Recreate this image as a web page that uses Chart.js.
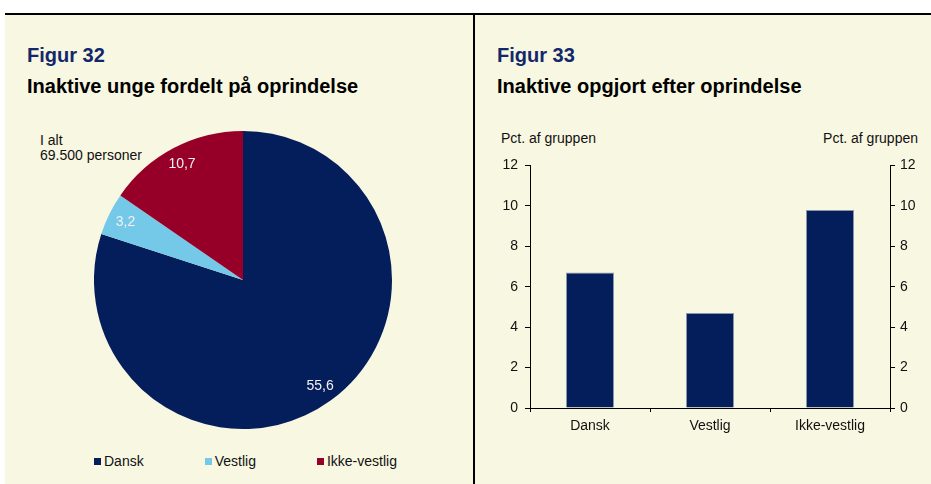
<!DOCTYPE html>
<html><head><meta charset="utf-8">
<script src="https://cdn.jsdelivr.net/npm/chart.js@4"></script>
<style>
html,body{margin:0;padding:0;background:#fff;width:931px;height:484px;overflow:hidden;font-family:"Liberation Sans",Arial,sans-serif;}
#panel{position:absolute;left:5px;top:13px;width:926px;height:471px;background:#f8f7e1;border-top:2px solid #000;box-sizing:border-box;}
#divider{position:absolute;left:473px;top:13px;width:2px;height:471px;background:#000;}
.t{position:absolute;white-space:nowrap;}
.fig{font-size:20px;line-height:20px;font-weight:bold;color:#13286b;}
.ttl{font-size:20px;line-height:20px;font-weight:bold;color:#000;}
.sm{font-size:14px;line-height:15px;color:#111;}
#legend{position:absolute;left:94px;top:454px;display:flex;gap:61px;font-size:14px;line-height:15px;color:#111;}
#legend .it{position:relative;padding-left:10px;white-space:nowrap;}
#legend .bx{position:absolute;left:0;top:4px;width:7px;height:7px;}
canvas{position:absolute;}
</style></head>
<body>
<div id="panel"></div>
<div id="divider"></div>

<div class="t fig" style="left:27px;top:45px;">Figur 32</div>
<div class="t ttl" style="left:27px;top:76px;">Inaktive unge fordelt på oprindelse</div>
<div class="t sm" style="left:40px;top:133px;">I alt<br>69.500 personer</div>

<div class="t fig" style="left:497px;top:45px;">Figur 33</div>
<div class="t ttl" style="left:497px;top:76px;">Inaktive opgjort efter oprindelse</div>
<div class="t sm" style="left:501px;top:131px;">Pct. af gruppen</div>
<div class="t sm" style="right:13px;top:131px;">Pct. af gruppen</div>

<canvas id="pie" width="298" height="298" style="left:94px;top:131px;"></canvas>
<canvas id="bar" width="451" height="300" style="left:480px;top:150px;"></canvas>
<div id="legend"></div>

<script>
// ---- Data ----
const pieCategories = ["Dansk", "Vestlig", "Ikke-vestlig"];
const pieValues = [55.6, 3.2, 10.7];           // tusinde personer
const barCategories = ["Dansk", "Vestlig", "Ikke-vestlig"];
const barValues = [6.7, 4.7, 9.8];             // pct. af gruppen
const yTickMin = 0, yTickMax = 12, yTickStep = 2;

// ---- Styles ----
const NAVY = "#041e5b", LIGHTBLUE = "#74c8e8", RED = "#960028";
const pieColors = [NAVY, LIGHTBLUE, RED];

Chart.defaults.font.family = "'Liberation Sans', Arial, sans-serif";
Chart.defaults.font.size = 14;
Chart.defaults.color = "#111";

const fmt = v => v.toFixed(1).replace(".", ",");

// HTML legend built from the arrays
const leg = document.getElementById("legend");
pieCategories.forEach((c, i) => {
  const it = document.createElement("span"); it.className = "it";
  const bx = document.createElement("span"); bx.className = "bx"; bx.style.background = pieColors[i];
  it.appendChild(bx); it.appendChild(document.createTextNode(c));
  leg.appendChild(it);
});

const sliceLabels = {
  id: "sliceLabels",
  afterDatasetsDraw(chart) {
    const ctx = chart.ctx, meta = chart.getDatasetMeta(0);
    ctx.save();
    ctx.fillStyle = "#f2f2f2";
    ctx.font = "14px 'Liberation Sans', Arial, sans-serif";
    ctx.textAlign = "center"; ctx.textBaseline = "middle";
    meta.data.forEach((arc, i) => {
      const p = arc.getProps(["x", "y", "startAngle", "endAngle", "outerRadius"], true);
      const m = (p.startAngle + p.endAngle) / 2, r = p.outerRadius * 0.88;
      ctx.fillText(fmt(pieValues[i]), p.x + Math.cos(m) * r, p.y + Math.sin(m) * r);
    });
    ctx.restore();
  }
};

new Chart(document.getElementById("pie"), {
  type: "pie",
  data: { labels: pieCategories, datasets: [{ data: pieValues, backgroundColor: pieColors, borderWidth: 0 }] },
  options: {
    responsive: false, animation: false,
    layout: { padding: 0 },
    plugins: { legend: { display: false }, tooltip: { enabled: false } }
  },
  plugins: [sliceLabels]
});

const yAxis = (pos, w) => ({
  position: pos, min: yTickMin, max: yTickMax,
  ticks: { stepSize: yTickStep, padding: pos === "left" ? 7 : 5, color: "#111" },
  grid: { drawOnChartArea: false, drawTicks: true, tickLength: 5, color: "#000" },
  border: { display: true, color: "#000", width: 1 },
  afterFit(s) { s.width = w; }
});

new Chart(document.getElementById("bar"), {
  type: "bar",
  data: {
    labels: barCategories,
    datasets: [{ data: barValues, backgroundColor: NAVY, borderColor: "#8a95b0", borderWidth: 1,
      barPercentage: 0.4, categoryPercentage: 1, yAxisID: "y" }]
  },
  options: {
    responsive: false, animation: false,
    layout: { padding: { top: 14, bottom: 12, left: 0, right: 0 } },
    plugins: { legend: { display: false }, tooltip: { enabled: false } },
    scales: {
      x: {
        offset: true,
        grid: { offset: true, drawOnChartArea: false, drawTicks: true, tickLength: 4, color: "#000" },
        border: { display: true, color: "#000", width: 1 },
        ticks: { padding: 6, color: "#111" },
        afterFit(s) { s.height = 30; }
      },
      y: yAxis("left", 50),
      y2: yAxis("right", 41)
    }
  }
});
</script>
</body></html>
